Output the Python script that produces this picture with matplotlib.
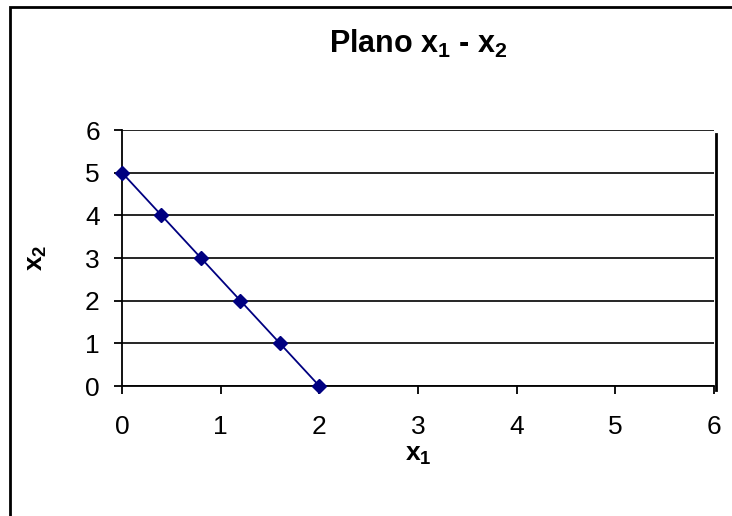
import matplotlib
matplotlib.use("Agg")
import matplotlib.pyplot as plt
from matplotlib.patches import Rectangle
from matplotlib.lines import Line2D

# data
x1 = [0.0, 0.4, 0.8, 1.2, 1.6, 2.0]
x2 = [5, 4, 3, 2, 1, 0]
ticks = [0, 1, 2, 3, 4, 5, 6]

plt.rcParams["font.family"] = ["Liberation Sans", "DejaVu Sans"]
plt.rcParams["mathtext.fontset"] = "custom"
plt.rcParams["mathtext.rm"] = "Liberation Sans"
plt.rcParams["mathtext.it"] = "Liberation Sans:italic"
plt.rcParams["mathtext.bf"] = "Liberation Sans:bold"

fig = plt.figure(figsize=(7.32, 5.16), dpi=100)
ax = fig.add_axes([122 / 732, 1 - 386 / 516, (714 - 122) / 732, (386 - 130) / 516])

# chart-area border (only left and top visible, the image is cropped)
fig.patches.append(Rectangle((10 / 732, -0.2), 1.2, 0.2 + 1 - 7 / 516,
                             transform=fig.transFigure, fill=False,
                             edgecolor="black", lw=2))

ax.plot(x1, x2, color="#000080", lw=1.3, marker="D", ms=7,
        markerfacecolor="#000080", markeredgecolor="#000080", clip_on=False, zorder=5)

ax.set_xlim(0, 6); ax.set_ylim(0, 6)
ax.set_xticks(ticks); ax.set_yticks(ticks)
ax.yaxis.grid(True, color="black", lw=1.2)
ax.set_axisbelow(True)
for s in ("top", "right"):
    ax.spines[s].set_visible(False)
for s in ("left", "bottom"):
    ax.spines[s].set_linewidth(1.3)
ax.tick_params(direction="out", length=6, width=1.3, labelsize=19, pad=10)
ax.tick_params(axis="x", pad=15)

# offset right edge line as in the original
ax.add_line(Line2D([1 + 2 / 592, 1 + 2 / 592], [-4 / 256, 1 - 4 / 256],
                   transform=ax.transAxes, color="black", lw=2, clip_on=False))

ax.set_title(r"Plano $\mathbf{x_1}$ - $\mathbf{x_2}$", fontsize=22, fontweight="bold", pad=55.5)
ax.set_xlabel(r"$\mathbf{x_1}$", fontsize=19, labelpad=3)
ax.set_ylabel(r"$\mathbf{x_2}$", fontsize=19, labelpad=26)

fig.savefig("out.png", dpi=100)
